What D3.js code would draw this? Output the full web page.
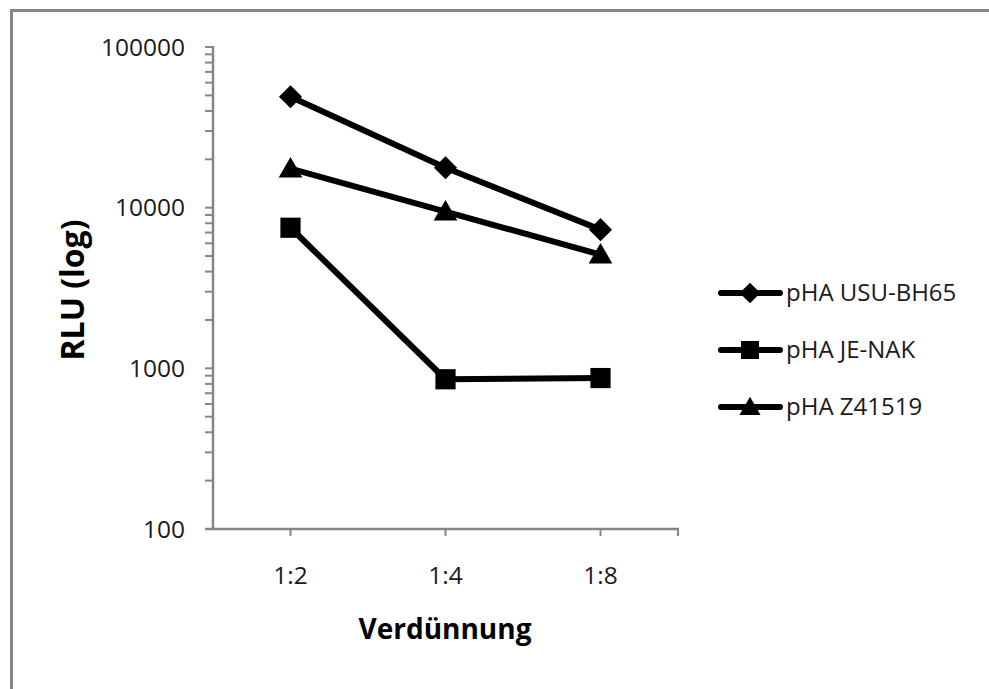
<!DOCTYPE html>
<html><head><meta charset="utf-8">
<script src="https://cdn.jsdelivr.net/npm/d3@7"></script>
<style>html,body{margin:0;padding:0;background:#fff;overflow:hidden}svg{display:block}</style>
</head><body>
<svg id="c" width="989" height="689"></svg>
<script>
const categories = ["1:2", "1:4", "1:8"];
const seriesNames = ["pHA USU-BH65", "pHA JE-NAK", "pHA Z41519"];
const usuBH65 = [49000, 17700, 7300];
const jeNAK = [7500, 855, 870];
const z41519 = [17500, 9450, 5100];
const yTicks = [100, 1000, 10000, 100000];
const markers = ["diamond", "square", "triangle"];

const svg = d3.select("#c");
const font = "'Open Sans', 'Noto Sans', sans-serif";
const grey = "#868686";

// frame (top and left edges visible)
svg.append("path").attr("d", "M11.5,689 V10.5 H989")
  .attr("fill", "none").attr("stroke", grey).attr("stroke-width", 3);

const x = d3.scaleBand().domain(categories).range([213, 678]);
const y = d3.scaleLog().domain([100, 100000]).range([529, 47]);

// y axis ticks
const minor = [];
for (let d = 100; d < 100000; d *= 10) for (let k = 2; k <= 9; k++) minor.push(d * k);
const gy = svg.append("g");
gy.selectAll("line.mn").data(minor.concat(yTicks)).join("line")
  .attr("x1", 205).attr("x2", 213).attr("y1", d => y(d)).attr("y2", d => y(d))
  .attr("stroke", grey).attr("stroke-width", 2);
gy.append("line").attr("x1", 213).attr("x2", 213).attr("y1", y(100000) - 1).attr("y2", y(100) + 1)
  .attr("stroke", grey).attr("stroke-width", 2.5);
gy.selectAll("text").data(yTicks).join("text")
  .attr("x", 185).attr("y", d => y(d)).attr("dy", "0.35em").attr("text-anchor", "end")
  .attr("font-family", font).attr("font-size", 24.5).attr("fill", "#1a1a1a")
  .text(d => d3.format("d")(d));

// x axis
const gx = svg.append("g");
gx.append("line").attr("x1", 205).attr("x2", 679).attr("y1", y(100)).attr("y2", y(100))
  .attr("stroke", grey).attr("stroke-width", 2.5);
const xt = categories.map(c => x(c) + x.bandwidth() / 2).concat([x.range()[1]]);
gx.selectAll("line.t").data(xt).join("line")
  .attr("x1", d => d).attr("x2", d => d).attr("y1", y(100)).attr("y2", y(100) + 7)
  .attr("stroke", grey).attr("stroke-width", 2);
gx.selectAll("text").data(categories).join("text")
  .attr("x", d => x(d) + x.bandwidth() / 2).attr("y", 575).attr("dy", "0.35em")
  .attr("text-anchor", "middle").attr("font-family", font).attr("font-size", 24.5).attr("fill", "#1a1a1a")
  .text(d => d);

// axis titles
svg.append("text").attr("x", 445).attr("y", 639).attr("text-anchor", "middle")
  .attr("font-family", font).attr("font-weight", "bold").attr("font-size", 28).attr("fill", "#000")
  .text("Verdünnung");
svg.append("text").attr("transform", "translate(84,290) rotate(-90)").attr("text-anchor", "middle")
  .attr("font-family", font).attr("font-weight", "bold").attr("font-size", 32).attr("fill", "#000")
  .text("RLU (log)");

const symbolFor = m => m === "diamond" ? d3.symbolDiamond2 : m === "square" ? d3.symbolSquare2 : d3.symbolTriangle2;
const sizeFor = m => m === "diamond" ? 340 : m === "square" ? 520 : 400;

const series = [usuBH65, jeNAK, z41519];
const line = d3.line().x((d, i) => x(categories[i]) + x.bandwidth() / 2).y(d => y(d));
series.forEach((vals, si) => {
  const g = svg.append("g");
  g.append("path").attr("d", line(vals)).attr("fill", "none").attr("stroke", "#000")
    .attr("stroke-width", 6).attr("stroke-linejoin", "round");
  g.selectAll("path.m").data(vals).join("path")
    .attr("transform", (d, i) => `translate(${x(categories[i]) + x.bandwidth() / 2},${y(d) + (markers[si] === "triangle" ? 2 : 0)})`)
    .attr("d", d3.symbol().type(symbolFor(markers[si])).size(sizeFor(markers[si])))
    .attr("fill", "#000");
});

// legend
const legY = [293, 350, 407];
seriesNames.forEach((n, i) => {
  const g = svg.append("g");
  g.append("line").attr("x1", 721).attr("x2", 780).attr("y1", legY[i]).attr("y2", legY[i])
    .attr("stroke", "#000").attr("stroke-width", 6).attr("stroke-linecap", "round");
  g.append("path").attr("transform", `translate(750,${legY[i] + (markers[i] === "triangle" ? 2 : 0)})`)
    .attr("d", d3.symbol().type(symbolFor(markers[i])).size(sizeFor(markers[i]) * 0.8))
    .attr("fill", "#000");
  g.append("text").attr("x", 786).attr("y", legY[i]).attr("dy", "0.35em")
    .attr("font-family", font).attr("font-size", 24).attr("fill", "#1a1a1a").text(n);
});
</script>
</body></html>
